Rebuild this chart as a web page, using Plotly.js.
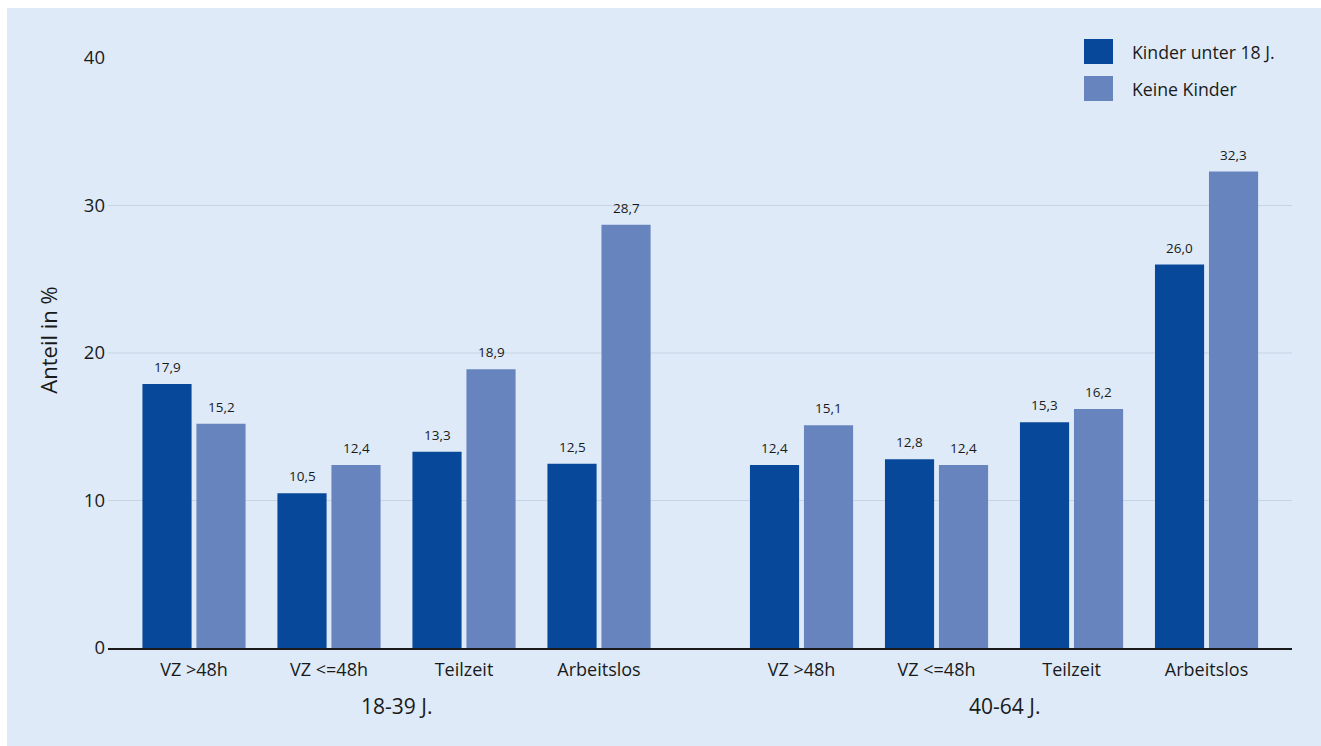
<!DOCTYPE html>
<html>
<head>
<meta charset="utf-8">
<script src="https://cdn.plot.ly/plotly-3.0.1.min.js"></script>
<style>
  html, body { margin: 0; padding: 0; background: #ffffff; }
  #chart { position: absolute; left: 7px; top: 8px; width: 1314px; height: 738px; }
</style>
</head>
<body>
<div id="chart"></div>
<script>
// ---- Data ----
const categories = ["VZ >48h", "VZ <=48h", "Teilzeit", "Arbeitslos"];
const ageGroups = ["18-39 J.", "40-64 J."];
const seriesNames = ["Kinder unter 18 J.", "Keine Kinder"];
// values per age group, in category order
const kinder_18_39 = [17.9, 10.5, 13.3, 12.5];
const keine_18_39  = [15.2, 12.4, 18.9, 28.7];
const kinder_40_64 = [12.4, 12.8, 15.3, 26.0];
const keine_40_64  = [15.1, 12.4, 16.2, 32.3];
const yTicks = [0, 10, 20, 30, 40];

// ---- Styling ----
const colors = ["#07489a", "#6884bf"];
const bg = "#deeaf8";
const gridColor = "#c6d4e4";
const textColor = "#1a1a1a";
const FONT = "Open Sans, Noto Sans, sans-serif";

// x positions: categories of group 2 start after a gap of 1.5 slots
const groupGap = 1.5;
const xPos = [];
const tickText = [];
ageGroups.forEach((g, gi) => {
  categories.forEach((c, ci) => {
    xPos.push(gi * (categories.length - 1 + groupGap) + ci);
    tickText.push(c);
  });
});
const seriesValues = [
  kinder_18_39.concat(kinder_40_64),
  keine_18_39.concat(keine_40_64)
];

const bargap = 0.2;
const slot = (1 - bargap) / 2;

const fmt = v => v.toFixed(1).replace(".", ",");

const traces = seriesValues.map((vals, si) => ({
  type: "bar",
  name: seriesNames[si],
  x: xPos,
  y: vals,
  marker: { color: colors[si], line: { width: 0 } },
  hoverinfo: "skip",
  showlegend: false
}));

const annotations = [];
// value labels
seriesValues.forEach((vals, si) => {
  vals.forEach((v, i) => {
    annotations.push({
      x: xPos[i] + (si === 0 ? -slot / 2 : slot / 2),
      y: v, xref: "x", yref: "y",
      text: fmt(v), showarrow: false,
      yanchor: "bottom", yshift: 6,
      font: { family: FONT, size: 13.5, color: textColor }
    });
  });
});
// age group labels
ageGroups.forEach((g, gi) => {
  const start = gi * (categories.length - 1 + groupGap);
  annotations.push({
    x: start + (categories.length - 1) / 2, xref: "x",
    y: -0.098, yref: "paper", yanchor: "middle",
    text: g, showarrow: false,
    font: { family: FONT, size: 21, color: textColor }
  });
});
// y-axis title
annotations.push({
  x: -0.051, xref: "paper", y: 0.522, yref: "paper",
  xanchor: "center", yanchor: "middle",
  text: "Anteil in %", textangle: -90, showarrow: false,
  font: { family: FONT, size: 22, color: textColor }
});

// custom legend
const legendRows = [
  { y0: 0.9898, y1: 1.0322, ty: 1.011 },
  { y0: 0.9271, y1: 0.9695, ty: 0.9483 }
];
const shapes = [];
seriesNames.forEach((n, si) => {
  const r = legendRows[si];
  shapes.push({
    type: "rect", xref: "paper", yref: "paper",
    x0: 0.8243, x1: 0.8488, y0: r.y0, y1: r.y1,
    fillcolor: colors[si], line: { width: 0 }
  });
  annotations.push({
    x: 0.8632, xref: "paper", y: r.ty, yref: "paper",
    xanchor: "left", yanchor: "middle",
    text: n, showarrow: false,
    font: { family: FONT, size: 17.7, color: textColor }
  });
});
// horizontal gridlines (no line at the top tick)
yTicks.filter(t => t > 0 && t < 40).forEach(t => {
  shapes.push({
    type: "line", xref: "paper", yref: "y",
    x0: 0, x1: 1, y0: t, y1: t,
    line: { color: gridColor, width: 1.2 }, layer: "below"
  });
});

const layout = {
  width: 1314, height: 738,
  paper_bgcolor: bg, plot_bgcolor: bg,
  margin: { l: 101, r: 29, t: 50, b: 98 },
  barmode: "group",
  bargap: bargap,
  bargroupgap: 0.09,
  font: { family: FONT, color: textColor },
  xaxis: {
    range: [-0.637, 8.133],
    tickvals: xPos, ticktext: tickText,
    ticks: "", showgrid: false, zeroline: false,
    showline: true, linecolor: "#1a1a1a", linewidth: 1.5,
    tickfont: { family: FONT, size: 18, color: textColor },
    ticklabelstandoff: 5
  },
  yaxis: {
    range: [0, 40],
    tickvals: yTicks, ticktext: yTicks.map(String),
    ticks: "", showgrid: false, zeroline: false, showline: false,
    tickfont: { family: FONT, size: 18.5, color: textColor },
    ticklabelstandoff: 2
  },
  shapes: shapes,
  annotations: annotations
};

Plotly.newPlot("chart", traces, layout, { staticPlot: true, displayModeBar: false });
</script>
</body>
</html>
